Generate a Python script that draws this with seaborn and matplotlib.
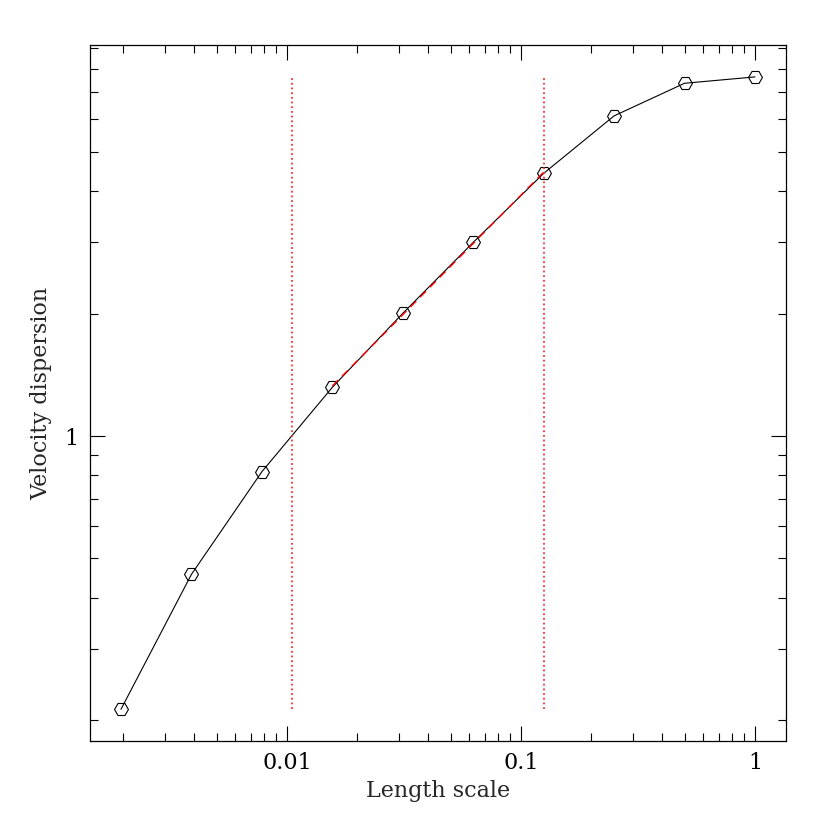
import numpy as np
import pandas as pd
import matplotlib
matplotlib.use("Agg")
import matplotlib.pyplot as plt
import seaborn as sns
from matplotlib.ticker import LogLocator, FuncFormatter, NullFormatter

# data
length = [0.001953125, 0.00390625, 0.0078125, 0.015625, 0.03125,
          0.0625, 0.125, 0.25, 0.5, 1.0]
sigma = [0.213, 0.457, 0.817, 1.317, 2.002, 2.991, 4.42, 6.12, 7.36, 7.63]
fit_range = [0.015625, 0.125]
vlines_x = [0.0105, 0.125]

df = pd.DataFrame({"Length scale": length, "Velocity dispersion": sigma})

sns.set_style("ticks")
plt.rcParams['font.family'] = ['DejaVu Serif']

fig = plt.figure(figsize=(8.3, 8.3), dpi=100)
ax = fig.add_axes([90/830, 1-741/830, 696/830, 696/830])

ax.set_xscale("log")
ax.set_yscale("log")

sns.lineplot(data=df, x="Length scale", y="Velocity dispersion", ax=ax,
             color="black", linewidth=0.8, marker="H", markersize=10,
             markerfacecolor="none", markeredgecolor="black",
             markeredgewidth=0.8, estimator=None)

# power-law fit over the inertial range
sub = df[(df["Length scale"] >= fit_range[0]) & (df["Length scale"] <= fit_range[1])]
p = np.polyfit(np.log10(sub["Length scale"]), np.log10(sub["Velocity dispersion"]), 1)
xf = np.array(fit_range)
ax.plot(xf, 10**np.polyval(p, np.log10(xf)), color="red", linestyle=(0, (6, 4)),
        linewidth=1.0, zorder=3)

for xv in vlines_x:
    ax.plot([xv, xv], [min(sigma), max(sigma)], color="#ff3030", linestyle=(0, (1, 1.6)),
            linewidth=1.3)

ax.set_xlim(0.00144, 1.357)
ax.set_ylim(0.178, 9.14)

fmt = FuncFormatter(lambda v, pos: "%g" % v)
for axis in (ax.xaxis, ax.yaxis):
    axis.set_major_locator(LogLocator(base=10, numticks=10))
    axis.set_minor_locator(LogLocator(base=10, subs=np.arange(2, 10), numticks=20))
    axis.set_major_formatter(fmt)
    axis.set_minor_formatter(NullFormatter())

ax.tick_params(which="both", direction="in", top=True, right=True,
               colors="black", labelsize=16, width=0.8)
ax.tick_params(which="major", length=11, pad=8)
ax.tick_params(which="minor", length=5.8)
for s in ax.spines.values():
    s.set_linewidth(0.9)
    s.set_color("black")

ax.set_xlabel("Length scale", fontsize=16, labelpad=4)
ax.set_ylabel("Velocity dispersion", fontsize=16, labelpad=9)

fig.savefig("out.png", dpi=100)
